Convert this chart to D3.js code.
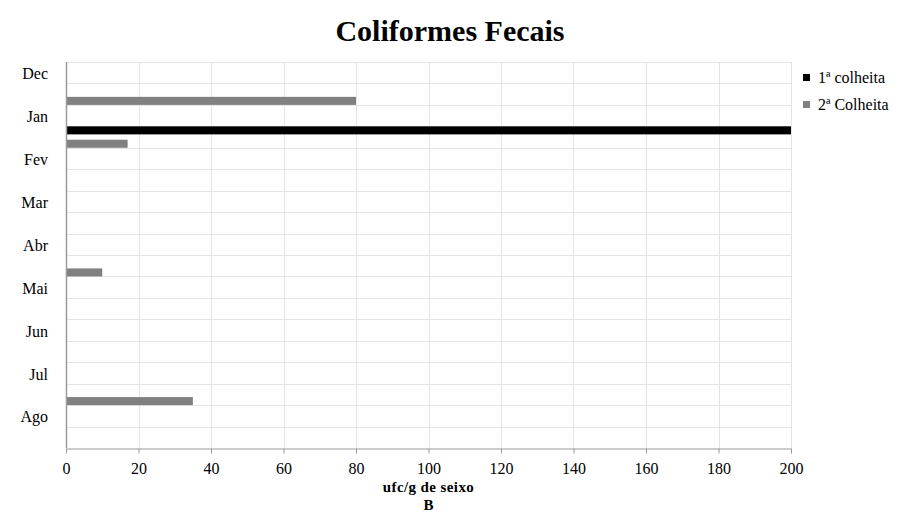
<!DOCTYPE html>
<html>
<head>
<meta charset="utf-8">
<script src="https://cdn.jsdelivr.net/npm/d3@7"></script>
<style>
  html, body { margin: 0; padding: 0; background: #fff; }
  svg { display: block; font-family: "Liberation Serif", "Times New Roman", serif; }
</style>
</head>
<body>
<svg id="chart" width="897" height="515"></svg>
<script>
// Months on the category axis; each month spans two sampling rows
const months = ["Dec", "Jan", "Fev", "Mar", "Abr", "Mai", "Jun", "Jul", "Ago"];
const rowsPerMonth = 2;

// Series values, one per sampling row (top to bottom)
const colheita1 = [0, 0, 0, 200, 0, 0, 0, 0, 0, 0, 0, 0, 0, 0, 0, 0, 0, 0];
const colheita2 = [0, 80, 0, 17, 0, 0, 0, 0, 0, 10, 0, 0, 0, 0, 0, 35, 0, 0];

const seriesNames = ["1ª colheita", "2ª Colheita"];
const seriesColors = ["#000000", "#808080"];
const xTicks = [0, 20, 40, 60, 80, 100, 120, 140, 160, 180, 200];

const chartTitle = "Coliformes Fecais";
const xTitle = "ufc/g de seixo";
const subTitle = "B";

const svg = d3.select("#chart");
const margin = { left: 66, right: 106, top: 62, bottom: 67 };
const W = 897, H = 515;
const x0 = margin.left, x1 = W - margin.right, y0 = margin.top, y1 = H - margin.bottom;

const rowIds = d3.range(months.length * rowsPerMonth);
const x = d3.scaleLinear().domain([0, 200]).range([x0, x1]);
const y = d3.scaleBand().domain(rowIds).range([y0, y1]).padding(0);
const sub = d3.scaleBand().domain([0, 1]).range([0, y.bandwidth()]).paddingInner(0.4).paddingOuter(0);

// Gridlines
const grid = svg.append("g");
grid.selectAll("line.h").data(rowIds).join("line")
  .attr("x1", x0).attr("x2", x1)
  .attr("y1", d => Math.round(y(d)) + 0.5).attr("y2", d => Math.round(y(d)) + 0.5)
  .attr("stroke", "#e4e4e4").attr("stroke-width", 1);
grid.selectAll("line.v").data(xTicks.slice(1)).join("line")
  .attr("x1", d => Math.round(x(d)) + 0.5).attr("x2", d => Math.round(x(d)) + 0.5)
  .attr("y1", y0).attr("y2", y1)
  .attr("stroke", "#e4e4e4").attr("stroke-width", 1);

// Bars
const series = [colheita1, colheita2];
series.forEach((vals, si) => {
  svg.append("g").selectAll("rect").data(rowIds.filter(i => vals[i] > 0)).join("rect")
    .attr("x", x(0))
    .attr("y", i => y(i) + sub(si))
    .attr("width", i => x(vals[i]) - x(0))
    .attr("height", sub.bandwidth())
    .attr("fill", seriesColors[si]);
});

// X axis
const xAxis = svg.append("g")
  .attr("transform", `translate(0,${Math.round(y1) + 0.5})`)
  .call(d3.axisBottom(x).tickValues(xTicks).tickSize(5).tickSizeOuter(0).tickPadding(9));
xAxis.select(".domain").attr("stroke", "#9a9a9a");
xAxis.selectAll(".tick line").attr("stroke", "#9a9a9a");
xAxis.selectAll(".tick text").attr("fill", "#000").style("font-size", "16px")
  .style("font-family", "Liberation Serif");

// Y axis line
svg.append("line")
  .attr("x1", x0 + 0.5).attr("x2", x0 + 0.5).attr("y1", y0).attr("y2", y1)
  .attr("stroke", "#9a9a9a").attr("stroke-width", 1.5);

// Month labels on the first row of each month
svg.append("g").selectAll("text").data(months).join("text")
  .attr("x", 48)
  .attr("y", (d, i) => y(i * rowsPerMonth) + y.bandwidth() / 2 + 1)
  .attr("dy", "0.35em")
  .attr("text-anchor", "end")
  .style("font-size", "16px")
  .text(d => d);

// Title
svg.append("text")
  .attr("x", 450).attr("y", 41)
  .attr("text-anchor", "middle")
  .style("font-size", "30px").style("font-weight", "bold")
  .text(chartTitle);

// Axis titles
const cx = (x0 + x1) / 2;
svg.append("text")
  .attr("x", cx).attr("y", 492)
  .attr("text-anchor", "middle")
  .style("font-size", "15px").style("font-weight", "bold")
  .style("letter-spacing", "0.4px")
  .text(xTitle);
svg.append("text")
  .attr("x", cx).attr("y", 510)
  .attr("text-anchor", "middle")
  .style("font-size", "15px").style("font-weight", "bold")
  .text(subTitle);

// Legend
const legend = svg.append("g").attr("transform", "translate(803,74)");
seriesNames.forEach((name, i) => {
  const g = legend.append("g").attr("transform", `translate(0,${i * 27})`);
  g.append("rect").attr("width", 7).attr("height", 7).attr("fill", seriesColors[i]);
  g.append("text").attr("x", 15).attr("y", 3.5).attr("dy", "0.35em")
    .style("font-size", "16px").text(name);
});
</script>
</body>
</html>
